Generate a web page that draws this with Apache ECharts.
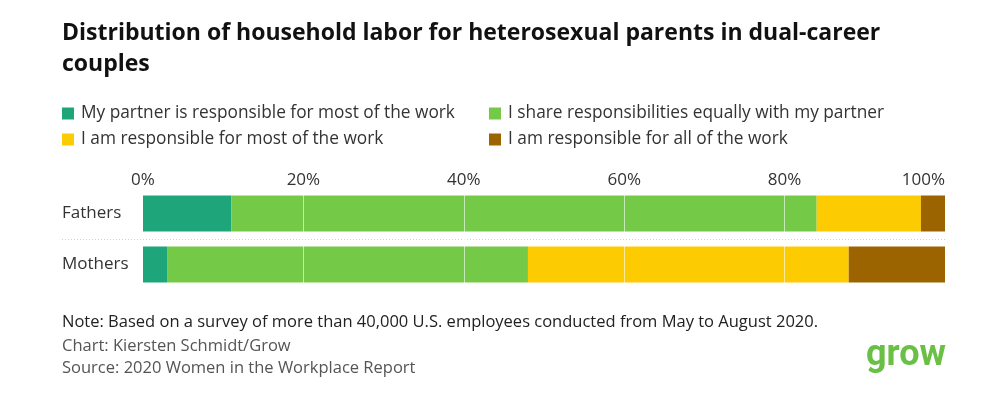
<!DOCTYPE html>
<html>
<head>
<meta charset="utf-8">
<script src="https://cdn.jsdelivr.net/npm/echarts@6/dist/echarts.min.js"></script>
<style>
  html, body { margin: 0; padding: 0; background: #fff; }
  #chart { width: 1000px; height: 399px; }
</style>
</head>
<body>
<div id="chart"></div>
<script>
// data (percent of respondents)
var groups = ['Fathers', 'Mothers'];
var seriesNames = [
  'My partner is responsible for most of the work',
  'I share responsibilities equally with my partner',
  'I am responsible for most of the work',
  'I am responsible for all of the work'
];
var partnerMost = [11, 3];
var shareEqual = [73, 45];
var meMost = [13, 40];
var meAll = [3, 12];
var gridTicks = [20, 40, 60, 80];
var colors = ['#1ea57a', '#74c947', '#fdcb02', '#9b6401'];

var chart = echarts.init(document.getElementById('chart'));
var font = 'Open Sans';
var values = [partnerMost, shareEqual, meMost, meAll];

var series = values.map(function (vals, i) {
  var s = {
    name: seriesNames[i],
    type: 'bar',
    stack: 'all',
    barWidth: 36,
    data: vals,
    itemStyle: { color: colors[i] },
    emphasis: { disabled: true }
  };
  if (i === values.length - 1) {
    // faint white grid lines that sit over the bars
    s.markLine = {
      silent: true,
      symbol: 'none',
      label: { show: false },
      lineStyle: { color: 'rgba(255,255,255,0.6)', type: 'solid', width: 1 },
      data: gridTicks.map(function (t) { return { xAxis: t }; })
    };
  }
  return s;
});

var footStyle = { fontFamily: font, fontSize: 16.5, fontWeight: 'normal', color: '#555' };

var option = {
  animation: false,
  title: [
    {
      text: 'Distribution of household labor for heterosexual parents in dual-career\ncouples',
      left: 57, top: 13,
      textStyle: { fontFamily: font, fontSize: 23, fontWeight: 'bold', color: '#111', lineHeight: 31 }
    },
    {
      text: 'Note: Based on a survey of more than 40,000 U.S. employees conducted from May to August 2020.',
      left: 57, top: 309,
      textStyle: { fontFamily: font, fontSize: 16.5, fontWeight: 'normal', color: '#222' }
    },
    { text: 'Chart: Kiersten Schmidt/Grow', left: 57, top: 333, textStyle: footStyle },
    { text: 'Source: 2020 Women in the Workplace Report', left: 57, top: 355, textStyle: footStyle },
    {
      text: 'grow',
      right: 49, top: 333,
      textStyle: { fontFamily: 'Roboto', fontSize: 36, fontWeight: 'bold', color: '#6abf45' }
    }
  ],
  legend: [
    {
      data: [seriesNames[0], seriesNames[2]],
      left: 57, top: 100, orient: 'vertical',
      icon: 'rect', itemWidth: 12, itemHeight: 12, itemGap: 9,
      selectedMode: false,
      textStyle: { fontFamily: font, fontSize: 17.3, color: '#333', padding: [0, 0, 0, 2] }
    },
    {
      data: [seriesNames[1], seriesNames[3]],
      left: 484, top: 100, orient: 'vertical',
      icon: 'rect', itemWidth: 12, itemHeight: 12, itemGap: 9,
      selectedMode: false,
      textStyle: { fontFamily: font, fontSize: 17.3, color: '#333', padding: [0, 0, 0, 2] }
    }
  ],
  grid: { left: 143, right: 55, top: 188, height: 102 },
  xAxis: {
    type: 'value',
    position: 'top',
    min: 0, max: 100, interval: 20,
    axisLine: { show: false },
    axisTick: { show: false },
    splitLine: { show: false },
    axisLabel: {
      formatter: '{value}%',
      margin: -1,
      alignMaxLabel: 'right',
      fontFamily: font, fontSize: 17, color: '#333'
    }
  },
  yAxis: {
    type: 'category',
    data: groups,
    inverse: true,
    axisLine: { show: false },
    axisTick: { show: false },
    axisLabel: {
      align: 'left',
      margin: 81,
      fontFamily: font, fontSize: 17, color: '#333'
    }
  },
  series: series
};

chart.setOption(option);

// dotted separator between the two groups
var yTop = chart.convertToPixel({ yAxisIndex: 0 }, groups[0]);
var yBot = chart.convertToPixel({ yAxisIndex: 0 }, groups[1]);
var xEnd = chart.convertToPixel({ xAxisIndex: 0 }, 100);
var yMid = Math.round((yTop + yBot) / 2) + 0.5;
chart.setOption({
  graphic: [{
    type: 'line',
    silent: true,
    shape: { x1: 62, y1: yMid, x2: xEnd, y2: yMid },
    style: { stroke: '#cfcfcf', lineWidth: 1, lineDash: [1, 2] }
  }]
});
</script>
</body>
</html>
